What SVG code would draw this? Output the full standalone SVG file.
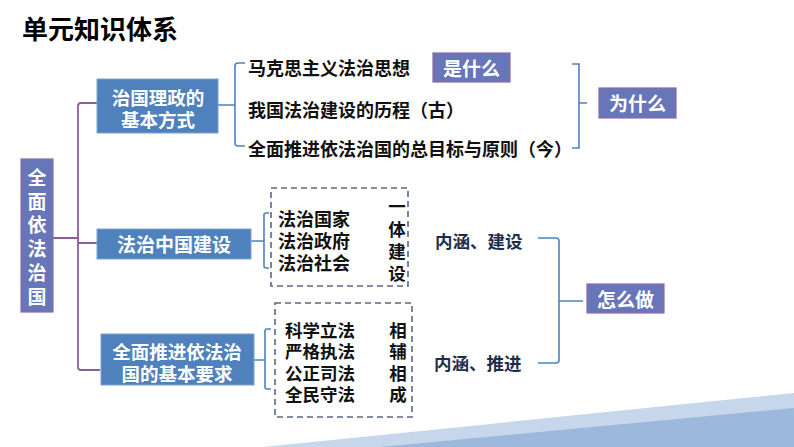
<svg xmlns="http://www.w3.org/2000/svg" width="794" height="447" viewBox="0 0 794 447">
<style>
text{font-family:"Liberation Sans","Noto Sans CJK SC",sans-serif;font-weight:bold;dominant-baseline:central;transform:translateY(1.5px)}
.w{fill:#fff}
.k{fill:#111;font-size:18px}
.v{fill:#111;font-size:17.5px}
.n{fill:#1f2d4d;font-size:17.5px}
.blue{fill:#4f81bd;stroke:#7ea2d0;stroke-width:1}
.pur{fill:#6775b9;stroke:#8e6aa4;stroke-width:1.2}
.cb{fill:none;stroke:#4f81bd;stroke-width:1.6}
.cp{fill:none;stroke:#8b5e9b;stroke-width:1.8}
.dash{fill:none;stroke:#5a6785;stroke-width:1.6;stroke-dasharray:6 4}
</style>
<rect width="794" height="447" fill="#fff"/>
<g id="deco">
<polygon points="263,447 794,393 794,447" fill="#c6d6eb"/>
<polygon points="380,447 794,408 794,447" fill="#9db8dd"/>
</g>
<text id="title" x="22" y="28" style="font-size:26px;fill:#000">单元知识体系</text>
<g id="connectors">
<path class="cp" d="M53,238 H78 M97,103 H81 Q78,103 78,106 V367 Q78,370 81,370 H100 M78,243 H97"/>
<path class="cb" d="M218,105 H235 M245,63 H238 Q235,63 235,66 V143 Q235,146 238,146 H245"/>
<path class="cb" d="M572,64 H579 V148 H572 M579,103 H587"/>
<path class="cb" d="M251,241 H264 M269,213 H266 Q264,213 264,215 V266 Q264,268 266,268 H269"/>
<path class="cb" d="M254,360 H265 M271,329 H267 Q265,329 265,331 V387 Q265,389 267,389 H271"/>
<path class="cb" d="M538,238 H556 Q559,238 559,241 V360 Q559,363 556,363 H538 M559,301 H583"/>
<rect class="dash" x="271" y="188" width="137" height="98"/>
<rect class="dash" x="275" y="303" width="137" height="114"/>
</g>
<g id="root">
<rect class="pur" x="21" y="159" width="32" height="153"/>
<text class="w" text-anchor="middle" style="font-size:19px"><tspan x="37" y="176">全</tspan><tspan x="37" y="200">面</tspan><tspan x="37" y="223">依</tspan><tspan x="37" y="247">法</tspan><tspan x="37" y="271">治</tspan><tspan x="37" y="295">国</tspan></text>
</g>
<g id="b1">
<rect class="blue" x="97" y="79" width="121" height="54"/>
<text class="w" text-anchor="middle" style="font-size:18.5px"><tspan x="158" y="96">治国理政的</tspan><tspan x="158" y="118">基本方式</tspan></text>
</g>
<g id="b2">
<rect class="blue" x="97" y="229" width="154" height="30"/>
<text class="w" x="174" y="244" text-anchor="middle" style="font-size:19px">法治中国建设</text>
</g>
<g id="b3">
<rect class="blue" x="101" y="334" width="153" height="51"/>
<text class="w" text-anchor="middle" style="font-size:18.5px"><tspan x="177" y="350">全面推进依法治</tspan><tspan x="177" y="372">国的基本要求</tspan></text>
</g>
<g id="items1">
<text class="k" x="248" y="67">马克思主义法治思想</text>
<text class="k" x="248" y="109">我国法治建设的历程（古）</text>
<text class="k" x="248" y="148">全面推进依法治国的总目标与原则（今）</text>
</g>
<g id="q1">
<rect class="pur" x="433" y="53" width="77" height="29"/>
<text class="w" x="471.5" y="67.5" text-anchor="middle" style="font-size:19px">是什么</text>
</g>
<g id="q2">
<rect class="pur" x="599" y="88" width="77" height="30"/>
<text class="w" x="637.5" y="103" text-anchor="middle" style="font-size:19px">为什么</text>
</g>
<g id="items2">
<text class="k"><tspan x="278" y="218">法治国家</tspan><tspan x="278" y="240">法治政府</tspan><tspan x="278" y="262">法治社会</tspan></text>
<text class="v" text-anchor="middle"><tspan x="397" y="205">一</tspan><tspan x="397" y="228">体</tspan><tspan x="397" y="250">建</tspan><tspan x="397" y="272">设</tspan></text>
</g>
<g id="items3">
<text class="v"><tspan x="285" y="329">科学立法</tspan><tspan x="285" y="350">严格执法</tspan><tspan x="285" y="372">公正司法</tspan><tspan x="285" y="393">全民守法</tspan></text>
<text class="v" text-anchor="middle"><tspan x="398" y="329">相</tspan><tspan x="398" y="350">辅</tspan><tspan x="398" y="372">相</tspan><tspan x="398" y="393">成</tspan></text>
</g>
<g id="l1"><text class="n" x="435" y="240">内涵、建设</text></g>
<g id="l2"><text class="n" x="434" y="362">内涵、推进</text></g>
<g id="q3">
<rect class="pur" x="587" y="284" width="77" height="29"/>
<text class="w" x="625.5" y="298.5" text-anchor="middle" style="font-size:19px">怎么做</text>
</g>
</svg>
